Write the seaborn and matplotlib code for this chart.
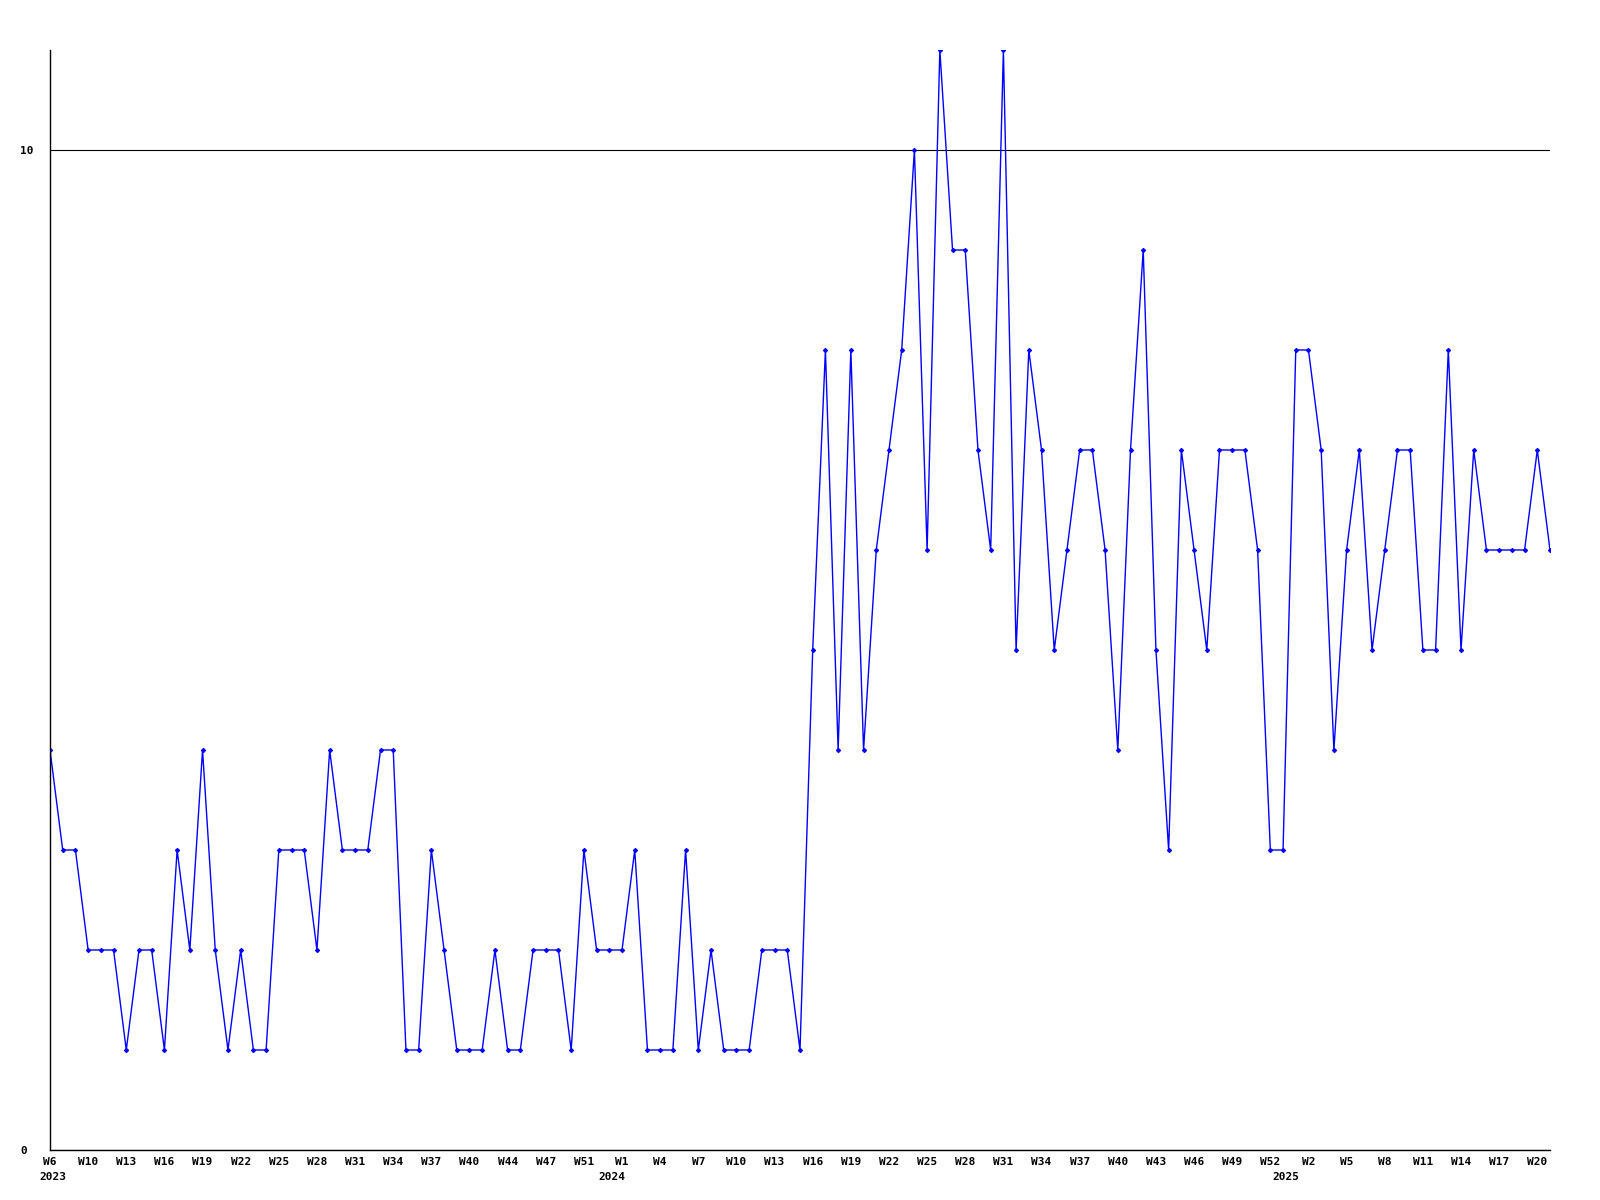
import pandas as pd
import matplotlib
matplotlib.use("Agg")
import matplotlib.pyplot as plt
import seaborn as sns

# weekly counts, W6 2023 .. W21 2025
values_2023 = [4, 3, 3, 2, 2, 2, 1, 2, 2, 1, 3, 2, 4, 2, 1, 2, 1, 1, 3, 3,
               3, 2, 4, 3, 3, 3, 4, 4, 1, 1, 3, 2, 1, 1, 1, 2, 1, 1, 2, 2,
               2, 1, 3, 2, 2, 2, 3]
values_2024 = [1, 1, 1, 3, 1, 2, 1, 1, 1, 2, 2, 2, 1, 5, 8, 4, 8, 4, 6, 7,
               8, 10, 6, 11, 9, 9, 7, 6, 11, 5, 8, 7, 5, 6, 7, 7, 6, 4, 7, 9,
               5, 3, 7, 6, 5, 7, 7, 7, 6, 3, 3, 8]
values_2025 = [8, 7, 4, 6, 7, 5, 6, 7, 7, 5, 5, 8, 5, 7, 6, 6, 6, 6, 7, 6]
values = values_2023 + values_2024 + values_2025

# x tick labels, one every third week
tick_labels = ["W6", "W10", "W13", "W16", "W19", "W22", "W25", "W28", "W31", "W34",
               "W37", "W40", "W44", "W47", "W51", "W1", "W4", "W7", "W10", "W13",
               "W16", "W19", "W22", "W25", "W28", "W31", "W34", "W37", "W40", "W43",
               "W46", "W49", "W52", "W2", "W5", "W8", "W11", "W14", "W17", "W20"]
years = ["2023", "2024", "2025"]
year_pos = [0.2, 44.2, 97.2]

df = pd.DataFrame({"week": range(len(values)), "count": values})

sns.set_style("white")
plt.rcParams["font.family"] = ["DejaVu Sans Mono"]
plt.rcParams["text.color"] = "black"
plt.rcParams["xtick.color"] = "black"
plt.rcParams["ytick.color"] = "black"

fig = plt.figure(figsize=(16, 12), dpi=100)
ax = fig.add_axes([50 / 1600, 50 / 1200, 1500 / 1600, 1100 / 1200])

sns.lineplot(data=df, x="week", y="count", ax=ax, color="#0000ff", linewidth=1.0,
             marker="D", markersize=2.2, markeredgecolor="#0000ff")

ax.set_xlim(0, len(values) - 1)
ax.set_ylim(0, 11)
ax.set_xlabel("")
ax.set_ylabel("")

ax.set_yticks([0, 10])
ax.set_yticklabels(["0", "10"], fontsize=8, fontweight="bold", ha="left")
ax.set_xticks(range(0, 3 * len(tick_labels), 3))
ax.set_xticklabels(tick_labels, fontsize=8, fontweight="bold")
ax.tick_params(axis="x", length=0, pad=5)
ax.tick_params(axis="y", length=0, pad=21.5)

ax.grid(axis="y", color="black", linewidth=0.8)
ax.grid(axis="x", visible=False)
sns.despine(ax=ax, top=True, right=True)
for side in ["left", "bottom"]:
    ax.spines[side].set_color("black")
    ax.spines[side].set_linewidth(1.0)

for yr, xpos in zip(years, year_pos):
    ax.annotate(yr, xy=(xpos, 0), xycoords=("data", "axes fraction"),
                xytext=(0, -16), textcoords="offset points",
                ha="center", va="top", fontsize=8, fontweight="bold")

fig.savefig("out.png", dpi=100)
